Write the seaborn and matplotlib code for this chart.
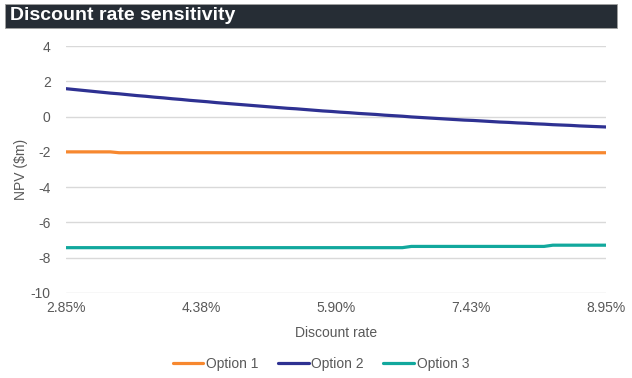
import matplotlib
matplotlib.use("Agg")
import matplotlib.pyplot as plt
from matplotlib.patches import Rectangle
import pandas as pd
import seaborn as sns

# Discount rates tested (%), 0.1% apart
rates = [2.85, 2.95, 3.05, 3.15, 3.25, 3.35, 3.45, 3.55, 3.65, 3.75,
         3.85, 3.95, 4.05, 4.15, 4.25, 4.35, 4.45, 4.55, 4.65, 4.75,
         4.85, 4.95, 5.05, 5.15, 5.25, 5.35, 5.45, 5.55, 5.65, 5.75,
         5.85, 5.95, 6.05, 6.15, 6.25, 6.35, 6.45, 6.55, 6.65, 6.75,
         6.85, 6.95, 7.05, 7.15, 7.25, 7.35, 7.45, 7.55, 7.65, 7.75,
         7.85, 7.95, 8.05, 8.15, 8.25, 8.35, 8.45, 8.55, 8.65, 8.75,
         8.85, 8.95]

# NPV ($m) of each option at each discount rate
option_1 = [-2.00, -2.00, -2.00, -2.00, -2.00, -2.00, -2.05, -2.05, -2.05, -2.05,
            -2.05, -2.05, -2.05, -2.05, -2.05, -2.05, -2.05, -2.05, -2.05, -2.05,
            -2.05, -2.05, -2.05, -2.05, -2.05, -2.05, -2.05, -2.05, -2.05, -2.05,
            -2.05, -2.05, -2.05, -2.05, -2.05, -2.05, -2.05, -2.05, -2.05, -2.05,
            -2.05, -2.05, -2.05, -2.05, -2.05, -2.05, -2.05, -2.05, -2.05, -2.05,
            -2.05, -2.05, -2.05, -2.05, -2.05, -2.05, -2.05, -2.05, -2.05, -2.05,
            -2.05, -2.05]
option_2 = [1.58, 1.53, 1.48, 1.43, 1.38, 1.33, 1.29, 1.24, 1.19, 1.15,
            1.10, 1.06, 1.01, 0.97, 0.92, 0.88, 0.84, 0.79, 0.75, 0.71,
            0.67, 0.63, 0.59, 0.55, 0.51, 0.47, 0.44, 0.40, 0.36, 0.32,
            0.29, 0.25, 0.22, 0.18, 0.15, 0.12, 0.08, 0.05, 0.02, -0.02,
            -0.05, -0.08, -0.11, -0.14, -0.17, -0.20, -0.22, -0.25, -0.28, -0.31,
            -0.33, -0.36, -0.38, -0.41, -0.43, -0.46, -0.48, -0.50, -0.53, -0.55,
            -0.57, -0.59]
option_3 = [-7.43] * 39 + [-7.36] * 16 + [-7.29] * 7

options = ["Option 1", "Option 2", "Option 3"]
colors = ["#F7882F", "#2E3192", "#12A89D"]
x_ticks = [2.85, 4.375, 5.90, 7.425, 8.95]
x_tick_labels = ["2.85%", "4.38%", "5.90%", "7.43%", "8.95%"]
y_ticks = [4, 2, 0, -2, -4, -6, -8, -10]

df = pd.DataFrame({
    "rate": rates * 3,
    "npv": option_1 + option_2 + option_3,
    "option": [o for o in options for _ in rates],
})

sns.set_theme(style="white")
plt.rcParams["font.family"] = ["Liberation Sans", "DejaVu Sans"]
plt.rcParams["axes.unicode_minus"] = False

fig = plt.figure(figsize=(6.32, 3.78), dpi=100)
ax = fig.add_axes([66 / 632, 1 - 293 / 378, 540 / 632, 247 / 378])

sns.lineplot(data=df, x="rate", y="npv", hue="option", palette=colors,
             linewidth=2.3, ax=ax, legend=False)

ax.set_xlim(2.85, 8.95)
ax.set_ylim(-10, 4)
ax.set_xticks(x_ticks, x_tick_labels)
ax.set_yticks(y_ticks, [str(v) for v in y_ticks])
ax.grid(axis="y", color="#d9d9d9", linewidth=1)
ax.set_axisbelow(True)
for s in ax.spines.values():
    s.set_visible(False)
ax.tick_params(axis="both", length=0, labelsize=10, labelcolor="#595959")
ax.tick_params(axis="y", pad=11)
ax.tick_params(axis="x", pad=6)
ax.set_xlabel("Discount rate", fontsize=10, color="#595959", labelpad=8)
ax.set_ylabel("NPV ($m)", fontsize=10, color="#595959", labelpad=2)

handles = [plt.Line2D([], [], color=c, linewidth=2.3) for c in colors]
fig.legend(handles, options, loc="center", bbox_to_anchor=(321 / 632, 1 - 364 / 378),
           ncol=3, frameon=False, fontsize=10, handlelength=2.2,
           handletextpad=0.2, columnspacing=1.4, labelcolor="#595959")

# Title banner
fig.patches.append(Rectangle((5 / 632, 1 - 28 / 378), 612 / 632, 24 / 378,
                             transform=fig.transFigure, facecolor="#262D35",
                             edgecolor="#a0a0a0", linewidth=0.6))
fig.text(10 / 632, 1 - 16 / 378, "Discount rate sensitivity", color="white",
         fontsize=14, fontweight="bold", va="center", ha="left")

fig.savefig("out.png", dpi=100)
